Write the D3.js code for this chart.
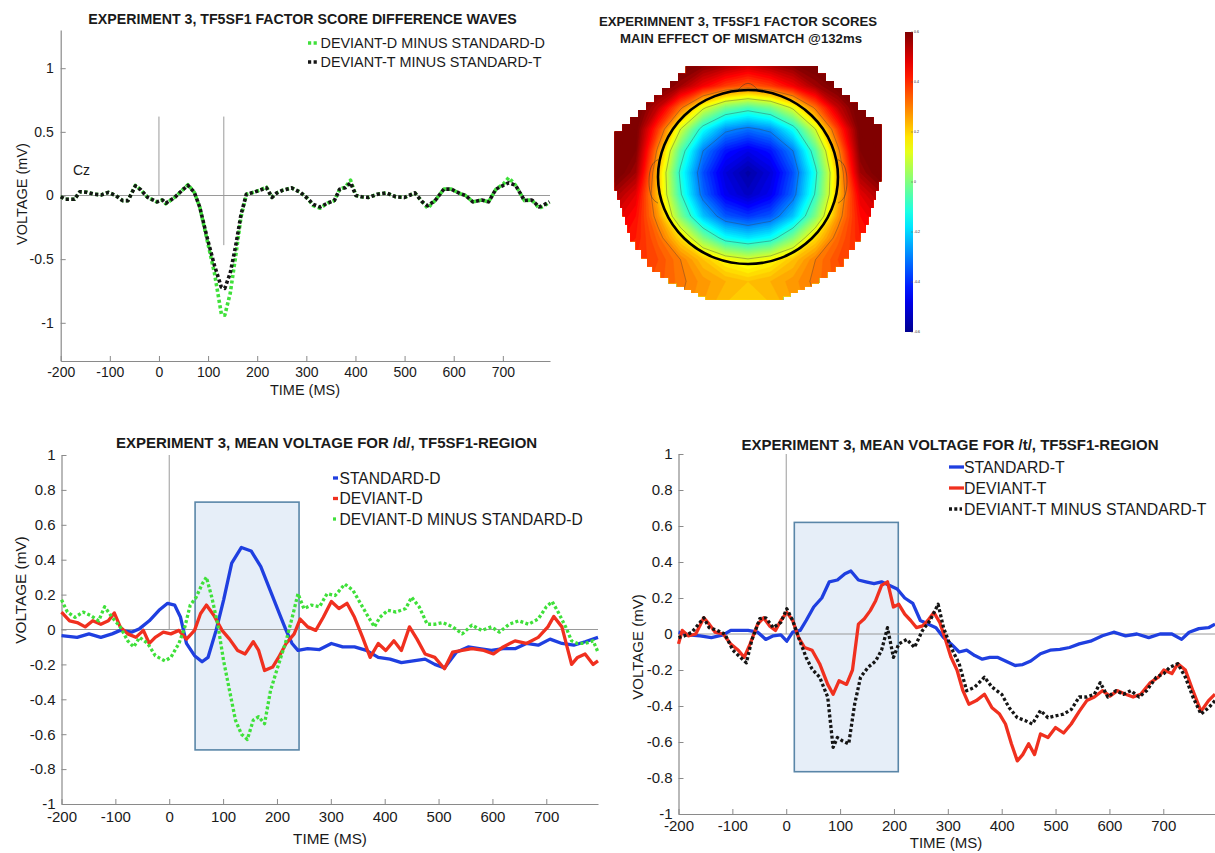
<!DOCTYPE html>
<html>
<head>
<meta charset="utf-8">
<script src="https://cdn.jsdelivr.net/npm/d3@7"></script>
<style>
body { margin: 0; background: #fff; }
svg text { font-family: "Liberation Sans", Arial, Helvetica, sans-serif; fill: #1a1a1a; }
</style>
</head>
<body>
<div id="chart"></div>
<script>
// ---------- data ----------
var timeDomain = [-200, 796];
var timeTicks = [-200, -100, 0, 100, 200, 300, 400, 500, 600, 700];
var topYTicks = [-1, -0.5, 0, 0.5, 1];
var bottomYTicks = [-1, -0.8, -0.6, -0.4, -0.2, 0, 0.2, 0.4, 0.6, 0.8, 1];

// top-left: factor score difference waves
var tlTime = [-200,-190,-172,-161,-147,-132,-117,-103,-88,-74,-63,-48,-37,-23,-4,7,14,32,47,59,72,83,98,113,127,134,145,156,167,178,193,204,219,230,240,251,270,288,303,314,328,343,357,368,379,390,401,412,427,445,463,482,500,521,536,547,562,580,595,613,624,639,657,671,686,701,712,726,744,759,774,785,795];
var tlDevDMinusStdD = [-0.01,-0.03,-0.03,0.03,0.025,0.01,0.005,0.025,0,-0.04,-0.04,0.08,0.045,-0.015,-0.05,-0.035,-0.065,-0.015,0.04,0.085,0.025,-0.09,-0.35,-0.61,-0.93,-0.94,-0.77,-0.48,-0.17,0.01,0.025,0.04,0.065,-0.015,0.02,0.04,0.06,0.025,-0.025,-0.08,-0.10,-0.06,-0.04,0.05,0.065,0.12,0,-0.01,-0.015,0.01,0.02,-0.01,-0.015,0.02,-0.05,-0.10,-0.04,0.05,0.05,0.015,0,-0.05,-0.035,-0.05,0.05,0.09,0.14,0.08,-0.04,-0.035,-0.10,-0.08,-0.05];
var tlDevTMinusStdT = [-0.01,-0.03,-0.03,0.03,0.025,0.01,0.005,0.025,0,-0.04,-0.04,0.075,0.045,-0.015,-0.05,-0.035,-0.06,-0.015,0.04,0.08,0.025,-0.09,-0.33,-0.55,-0.72,-0.73,-0.61,-0.40,-0.15,0.01,0.025,0.04,0.06,-0.015,0.02,0.04,0.06,0.025,-0.025,-0.07,-0.09,-0.06,-0.04,0.05,0.06,0.10,0,-0.01,-0.015,0.01,0.02,-0.01,-0.015,0.02,-0.05,-0.08,-0.04,0.05,0.05,0.015,0,-0.05,-0.035,-0.05,0.05,0.08,0.10,0.08,-0.04,-0.035,-0.09,-0.07,-0.05];

// bottom-left: /d/
var stdDTime = [-200,-171,-149,-127,-106,-91,-69,-55,-37,-19,-3,10,21,32,47,61,72,87,101,116,134,152,170,188,206,217,228,239,257,279,301,322,344,366,388,410,431,453,475,493,511,533,555,576,598,620,642,663,685,707,729,751,772,796];
var stdDValue = [-0.035,-0.045,-0.025,-0.045,-0.025,-0.005,-0.015,0.005,0.05,0.11,0.15,0.14,0.07,-0.08,-0.15,-0.185,-0.16,-0.005,0.17,0.38,0.47,0.45,0.36,0.22,0.08,-0.005,-0.08,-0.12,-0.11,-0.115,-0.08,-0.10,-0.10,-0.12,-0.16,-0.17,-0.19,-0.18,-0.17,-0.20,-0.22,-0.13,-0.10,-0.11,-0.12,-0.11,-0.11,-0.08,-0.09,-0.055,-0.08,-0.09,-0.07,-0.045];
var devDTime = [-200,-185,-171,-156,-142,-127,-113,-102,-91,-77,-62,-48,-37,-26,-11,3,18,32,47,58,69,83,98,112,127,141,156,166,177,192,203,217,232,243,257,272,286,301,315,330,344,359,373,388,402,417,431,446,460,475,493,511,526,544,562,584,602,620,642,663,685,703,714,729,747,758,772,787,796];
var devDValue = [0.10,0.05,0.04,0.015,0.05,0.03,0.05,0.095,0.015,-0.025,-0.045,-0.005,-0.08,-0.045,-0.015,-0.025,-0.005,-0.055,-0.005,0.09,0.14,0.08,-0.005,-0.055,-0.12,-0.14,-0.07,-0.12,-0.235,-0.215,-0.16,-0.08,-0.025,0.06,0.015,-0.005,0.07,0.16,0.12,0.15,0.07,-0.045,-0.16,-0.08,-0.12,-0.065,-0.12,0.015,-0.055,-0.14,-0.16,-0.225,-0.13,-0.12,-0.11,-0.12,-0.14,-0.10,-0.065,-0.08,-0.045,0.015,0.075,0.015,-0.20,-0.16,-0.14,-0.20,-0.18];
var diffDTime = [-200,-189,-175,-160,-146,-131,-120,-106,-91,-77,-66,-55,-40,-26,-8,3,18,29,39,50,61,69,79,90,101,112,123,134,145,156,166,177,188,203,217,230,239,250,264,279,293,308,326,341,355,370,381,391,406,421,439,450,464,479,493,508,526,544,562,580,598,613,631,649,667,685,700,711,722,736,747,758,772,787,796];
var diffDValue = [0.17,0.10,0.07,0.10,0.08,0.05,0.13,0.07,0.015,-0.065,-0.10,-0.045,-0.08,-0.15,-0.18,-0.16,-0.08,0.015,0.14,0.185,0.26,0.30,0.185,0.03,-0.18,-0.35,-0.52,-0.60,-0.63,-0.52,-0.50,-0.54,-0.35,-0.20,-0.065,0.09,0.205,0.12,0.14,0.13,0.205,0.195,0.26,0.225,0.15,0.07,0.015,0.07,0.11,0.10,0.12,0.185,0.13,0.03,0.03,0.04,0.015,-0.025,0.025,-0.005,0.015,-0.015,0.03,0.05,0.03,0.06,0.13,0.16,0.10,0.015,-0.065,-0.08,-0.08,-0.065,-0.13];

// bottom-right: /t/
var stdTTime = [-200,-182,-160,-139,-117,-103,-89,-71,-53,-38,-24,-10,1,12,26,37,51,66,80,95,109,120,134,148,163,177,192,206,220,235,249,263,278,292,306,321,335,350,364,378,393,407,425,439,454,472,490,508,526,544,565,587,608,630,651,673,694,716,734,748,766,784,796];
var stdTValue = [0.01,-0.005,-0.01,-0.02,-0.005,0.02,0.02,0.02,0.01,-0.03,-0.01,-0.005,-0.04,0.01,0.02,0.075,0.15,0.20,0.29,0.30,0.335,0.35,0.30,0.29,0.28,0.29,0.27,0.25,0.20,0.17,0.075,0.055,0.035,-0.02,-0.055,-0.10,-0.09,-0.12,-0.14,-0.13,-0.13,-0.15,-0.175,-0.17,-0.15,-0.11,-0.09,-0.085,-0.075,-0.055,-0.04,-0.01,0.01,-0.01,0,-0.02,0,0,-0.03,0.01,0.03,0.035,0.055];
var devTTime = [-200,-193,-182,-168,-153,-143,-132,-117,-103,-89,-78,-67,-53,-42,-31,-20,-10,1,12,23,34,48,62,77,87,98,112,123,134,145,156,166,177,188,199,209,220,231,242,253,263,274,285,296,306,317,328,339,353,368,382,396,407,418,429,439,450,461,472,486,500,515,529,544,558,572,587,601,615,630,644,658,676,691,701,716,727,741,755,770,784,796];
var devTValue = [-0.055,0.02,-0.01,0,0.09,0.055,0.01,0,-0.055,-0.09,-0.13,-0.055,0.055,0.09,0.045,0.02,0.075,0.12,0.075,-0.02,-0.075,-0.09,-0.165,-0.28,-0.335,-0.26,-0.28,-0.20,0.055,0.085,0.13,0.185,0.27,0.29,0.15,0.165,0.11,0.075,0.035,0.045,0.075,0.12,0.065,-0.035,-0.13,-0.20,-0.315,-0.39,-0.37,-0.335,-0.41,-0.445,-0.50,-0.61,-0.705,-0.67,-0.61,-0.67,-0.555,-0.575,-0.52,-0.55,-0.50,-0.43,-0.37,-0.35,-0.315,-0.345,-0.315,-0.335,-0.35,-0.335,-0.27,-0.24,-0.20,-0.22,-0.165,-0.20,-0.315,-0.43,-0.37,-0.335];
var diffTTime = [-200,-189,-175,-153,-143,-128,-114,-99,-85,-74,-64,-49,-38,-24,-10,1,12,23,37,48,62,77,87,95,105,116,127,138,152,166,177,188,199,209,224,238,253,267,282,292,306,321,335,350,368,382,400,414,429,443,457,472,486,500,515,529,544,558,572,583,597,612,626,640,655,669,687,701,712,727,741,755,770,784,796];
var diffTValue = [-0.02,-0.01,0.01,0.09,0.035,0.02,0,-0.09,-0.13,-0.16,-0.035,0.085,0.09,0.035,0.065,0.14,0.075,-0.02,-0.13,-0.195,-0.24,-0.35,-0.63,-0.575,-0.595,-0.61,-0.39,-0.24,-0.185,-0.15,-0.09,0.035,-0.13,-0.055,-0.03,-0.075,0.02,0.075,0.165,0.035,-0.075,-0.165,-0.315,-0.295,-0.24,-0.295,-0.335,-0.41,-0.465,-0.48,-0.50,-0.425,-0.465,-0.455,-0.445,-0.42,-0.35,-0.35,-0.335,-0.27,-0.35,-0.315,-0.335,-0.315,-0.35,-0.315,-0.24,-0.22,-0.185,-0.165,-0.24,-0.35,-0.445,-0.41,-0.37];

// analysis windows [tStart, tEnd, vLow, vHigh]
var windowD = [48, 241, -0.69, 0.73];
var windowT = [15, 208, -0.765, 0.62];

// scalp map grid (head units, circle radius = 1)
var headX = [-1.5,-1.25,-1,-0.75,-0.5,-0.25,0,0.25,0.5,0.75,1,1.25,1.5];
var headY = [-1.3,-1.05,-0.8,-0.55,-0.3,-0.05,0.2,0.45,0.7,0.95,1.2,1.45];
var scalpValues = [
  [0.66,0.66,0.66,0.64,0.6,0.56,0.52,0.56,0.6,0.64,0.66,0.66,0.66],
  [0.66,0.66,0.63,0.56,0.46,0.38,0.34,0.38,0.46,0.56,0.63,0.66,0.66],
  [0.66,0.64,0.52,0.32,0.12,-0.01,-0.06,-0.01,0.12,0.32,0.52,0.64,0.66],
  [0.66,0.62,0.38,0.1,-0.14,-0.28,-0.32,-0.28,-0.14,0.1,0.38,0.62,0.66],
  [0.66,0.6,0.28,-0.05,-0.3,-0.43,-0.48,-0.43,-0.3,-0.05,0.28,0.6,0.66],
  [0.64,0.56,0.22,-0.12,-0.36,-0.5,-0.57,-0.5,-0.36,-0.12,0.22,0.56,0.64],
  [0.56,0.48,0.22,-0.09,-0.33,-0.47,-0.53,-0.47,-0.33,-0.09,0.22,0.48,0.56],
  [0.5,0.44,0.27,0.0,-0.22,-0.35,-0.39,-0.35,-0.22,0.0,0.27,0.44,0.5],
  [0.46,0.42,0.33,0.19,0.0,-0.14,-0.18,-0.14,0.0,0.19,0.33,0.42,0.46],
  [0.42,0.4,0.36,0.3,0.22,0.15,0.11,0.15,0.22,0.3,0.36,0.4,0.42],
  [0.4,0.38,0.35,0.31,0.27,0.24,0.22,0.24,0.27,0.31,0.35,0.38,0.4],
  [0.36,0.35,0.33,0.3,0.26,0.22,0.2,0.22,0.26,0.3,0.33,0.35,0.36]
];
var maskOutline = [[-0.69,-1.27],[0.69,-1.27],[1.48,-0.52],[1.48,0.05],[1.42,0.26],[1.31,0.64],[1.06,1.03],[0.79,1.22],[0.39,1.41],[-0.39,1.41],[-0.79,1.22],[-1.06,1.03],[-1.31,0.64],[-1.42,0.26],[-1.48,0.05],[-1.48,-0.52]];
var leftEar = [[-1.0,-0.2],[-1.08,-0.15],[-1.11,0.05],[-1.08,0.25],[-1.0,0.3]];
var rightEar = [[1.0,-0.2],[1.08,-0.15],[1.11,0.05],[1.08,0.25],[1.0,0.3]];
var nose = [[-0.12,-0.99],[0,-1.12],[0.12,-0.99]];
var colorbarTicks = [-0.6, -0.4, -0.2, 0, 0.2, 0.4, 0.6];

// colours
var blue = "#1f3fe0", red = "#f0301f", green = "#3fe03a", black = "#151515";

// svg
var svg = d3.select("#chart").append("svg")
    .attr("width", 1215)
    .attr("height", 853);

// jet colormap
var jet = d3.scaleLinear()
    .domain([-0.6, -0.45, -0.15, 0.15, 0.45, 0.6])
    .range(["#00008f", "#0000ff", "#00ffff", "#ffff00", "#ff0000", "#800000"])
    .clamp(true);

function drawPanel(p) {
    var g = svg.append("g");
    var x = d3.scaleLinear().domain(timeDomain).range(p.xRange);
    var y = d3.scaleLinear().domain(p.yDomain).range(p.yRange);

    //analysis window box
    if (p.box) {
        g.append("rect")
            .attr("x", x(p.box[0]))
            .attr("y", y(p.box[3]))
            .attr("width", x(p.box[1]) - x(p.box[0]))
            .attr("height", y(p.box[2]) - y(p.box[3]))
            .attr("fill", "#e6eef8")
            .attr("stroke", "#5a86a8")
            .attr("stroke-width", 1.6);
    }

    //zero line
    g.append("line")
        .attr("x1", x(timeDomain[0])).attr("x2", x(timeDomain[1]))
        .attr("y1", y(0)).attr("y2", y(0))
        .attr("stroke", "#9a9a9a").attr("stroke-width", 1);

    //vertical guide lines
    p.guides.forEach(function(m) {
        g.append("line")
            .attr("x1", x(m[0])).attr("x2", x(m[0]))
            .attr("y1", y(m[1])).attr("y2", y(m[2]))
            .attr("stroke", "#9a9a9a").attr("stroke-width", 1);
    });

    //axes
    var bottomAxis = d3.axisBottom(x).tickValues(timeTicks)
        .tickSizeInner(-5).tickSizeOuter(0).tickPadding(p.xPad)
        .tickFormat(function(d) { return String(d); });
    var leftAxis = d3.axisLeft(y).tickValues(p.yTicks)
        .tickSizeInner(-5).tickSizeOuter(0).tickPadding(p.yPad)
        .tickFormat(function(d) { return String(d); });
    var xg = g.append("g").attr("transform", `translate(0,${p.yRange[0]})`).call(bottomAxis);
    var yg = g.append("g").attr("transform", `translate(${p.xRange[0]},0)`).call(leftAxis);
    [xg, yg].forEach(function(a) {
        a.select(".domain").attr("stroke", "#8a8a8a").attr("stroke-width", 1.2);
        a.selectAll(".tick line").attr("stroke", "#8a8a8a");
        a.selectAll(".tick text").attr("font-size", p.tickFont + "px").attr("fill", "#1a1a1a")
            .attr("font-family", "'Liberation Sans', Arial, sans-serif");
    });

    //series
    var line = d3.line().x(function(d) { return x(d[0]); }).y(function(d) { return y(d[1]); });
    p.series.forEach(function(s) {
        g.append("path")
            .datum(d3.zip(s.t, s.v))
            .attr("d", line)
            .attr("fill", "none")
            .attr("stroke", s.color)
            .attr("stroke-width", s.width)
            .attr("stroke-linejoin", "round")
            .attr("stroke-dasharray", s.dash || null);
    });

    //legend
    p.series.forEach(function(s, i) {
        var ly = p.legend.y[i];
        g.append("line")
            .attr("x1", p.legend.x0).attr("x2", p.legend.x0 + (s.dash ? p.legend.dotLen : p.legend.lineLen))
            .attr("y1", ly).attr("y2", ly)
            .attr("stroke", s.color).attr("stroke-width", s.width)
            .attr("stroke-dasharray", s.dash || null);
        g.append("text")
            .attr("x", p.legend.tx).attr("y", ly).attr("dy", "0.36em")
            .attr("font-size", p.legend.font + "px")
            .text(s.name);
    });

    //title
    g.append("text")
        .attr("x", p.title.x).attr("y", p.title.y).attr("dy", "0.36em")
        .attr("text-anchor", "middle").attr("font-weight", "bold")
        .attr("font-size", p.title.font + "px")
        .text(p.title.text);

    //axis labels
    g.append("text")
        .attr("x", p.xLabel[0]).attr("y", p.xLabel[1]).attr("dy", "0.36em")
        .attr("text-anchor", "middle").attr("font-size", p.labelFont + "px")
        .text("TIME (MS)");
    g.append("text")
        .attr("transform", `translate(${p.yLabel[0]},${p.yLabel[1]}) rotate(-90)`)
        .attr("dy", "0.36em")
        .attr("text-anchor", "middle").attr("font-size", p.labelFont + "px")
        .text("VOLTAGE (mV)");
    return g;
}

// top-left panel
var tl = drawPanel({
    xRange: [60.7, 550], yRange: [361, 30], yDomain: [-1.3, 1.3],
    yTicks: topYTicks, xPad: 6, yPad: 7, tickFont: 14, labelFont: 14.5,
    guides: [[0, 0.62, 0], [132, 0.62, -0.39]],
    series: [
        { name: "DEVIANT-D MINUS STANDARD-D", t: tlTime, v: tlDevDMinusStdD, color: green, width: 3.6, dash: "3.2,2.4" },
        { name: "DEVIANT-T MINUS STANDARD-T", t: tlTime, v: tlDevTMinusStdT, color: black, width: 3.6, dash: "3.2,2.4" }
    ],
    legend: { x0: 308, tx: 320.5, y: [43, 62], font: 14.4, dotLen: 11, lineLen: 11 },
    title: { x: 302.5, y: 18.5, font: 14.2, text: "EXPERIMENT 3, TF5SF1 FACTOR SCORE DIFFERENCE WAVES" },
    xLabel: [305, 390], yLabel: [21.7, 194]
});
tl.append("text").attr("x", 73).attr("y", 170).attr("dy", "0.36em")
    .attr("font-size", "14px").text("Cz");

// bottom-left panel
drawPanel({
    xRange: [61.5, 598], yRange: [804, 455], yDomain: [-1, 1],
    yTicks: bottomYTicks, xPad: 7, yPad: 6, tickFont: 15, labelFont: 15.3,
    box: windowD,
    guides: [[0, 1, 0]],
    series: [
        { name: "STANDARD-D", t: stdDTime, v: stdDValue, color: blue, width: 3.3 },
        { name: "DEVIANT-D", t: devDTime, v: devDValue, color: red, width: 3.3 },
        { name: "DEVIANT-D MINUS STANDARD-D", t: diffDTime, v: diffDValue, color: green, width: 3.3, dash: "3,2.3" }
    ],
    legend: { x0: 333, tx: 339.5, y: [478, 498.5, 519], font: 15.6, dotLen: 5, lineLen: 5 },
    title: { x: 326.6, y: 442.7, font: 15, text: "EXPERIMENT 3, MEAN VOLTAGE FOR /d/, TF5SF1-REGION" },
    xLabel: [330, 838], yLabel: [20, 590]
});

// bottom-right panel
drawPanel({
    xRange: [678.5, 1215], yRange: [814, 454], yDomain: [-1, 1],
    yTicks: bottomYTicks, xPad: 6, yPad: 6, tickFont: 15, labelFont: 15,
    box: windowT,
    guides: [[0, 1, 0]],
    series: [
        { name: "STANDARD-T", t: stdTTime, v: stdTValue, color: blue, width: 3.3 },
        { name: "DEVIANT-T", t: devTTime, v: devTValue, color: red, width: 3.3 },
        { name: "DEVIANT-T MINUS STANDARD-T", t: diffTTime, v: diffTValue, color: black, width: 3.3, dash: "3,2.3" }
    ],
    legend: { x0: 949, tx: 964, y: [467, 488, 509], font: 15.8, dotLen: 13, lineLen: 15 },
    title: { x: 950, y: 445, font: 15, text: "EXPERIMENT 3, MEAN VOLTAGE FOR /t/, TF5SF1-REGION" },
    xLabel: [946, 843], yLabel: [638, 647]
});

// ---------- scalp map ----------
var hx = d3.scaleLinear().domain([-1, 1]).range([658, 838]);
var hy = d3.scaleLinear().domain([-1, 1]).range([90, 264]);
var topo = svg.append("g");

//stepped (pixelated) mask outline
function stepOutline(pts, step) {
    var out = [];
    for (var i = 0; i < pts.length; i++) {
        var p = pts[i], q = pts[(i + 1) % pts.length];
        var dx = q[0] - p[0], dy = q[1] - p[1];
        out.push(p);
        if (Math.abs(dx) > 1 && Math.abs(dy) > 1) {
            var n = Math.max(1, Math.round(Math.max(Math.abs(dx), Math.abs(dy)) / step));
            var cur = p;
            for (var k = 1; k <= n; k++) {
                var nx = p[0] + dx * k / n, ny = p[1] + dy * k / n;
                out.push([nx, cur[1]]);
                if (k < n) out.push([nx, ny]);
                cur = [nx, ny];
            }
        }
    }
    return out;
}
var maskPx = stepOutline(maskOutline.map(function(d) { return [hx(d[0]), hy(d[1])]; }), 8);
svg.append("defs").append("clipPath").attr("id", "scalpClip")
    .append("path").attr("d", "M" + maskPx.map(function(d) { return d.join(","); }).join("L") + "Z");

//contour bands
var gx = d3.scaleLinear().domain([0.5, headX.length - 0.5]).range([headX[0], headX[headX.length - 1]]);
var gy = d3.scaleLinear().domain([0.5, headY.length - 0.5]).range([headY[0], headY[headY.length - 1]]);
var gridProj = d3.geoTransform({
    point: function(px, py) { this.stream.point(hx(gx(px)), hy(gy(py))); }
});
var geo = d3.geoPath(gridProj);
var flat = scalpValues.flat();
var fillLevels = d3.range(-0.64, 0.66, 0.02);
var bands = d3.contours().size([headX.length, headY.length]).smooth(true).thresholds(fillLevels)(flat);
var mapG = topo.append("g").attr("clip-path", "url(#scalpClip)");
mapG.selectAll("path.band")
    .data(bands)
    .enter()
    .append("path")
    .attr("class", "band")
    .attr("d", geo)
    .attr("fill", function(d) { return jet(d.value + 0.01); })
    .attr("stroke", function(d) { return jet(d.value + 0.01); })
    .attr("stroke-width", 0.5);

//contour lines
var lineLevels = [-0.3, -0.1, 0.1, 0.3];
var isoLines = d3.contours().size([headX.length, headY.length]).thresholds(lineLevels)(flat);
mapG.selectAll("path.iso")
    .data(isoLines)
    .enter()
    .append("path")
    .attr("class", "iso")
    .attr("d", geo)
    .attr("fill", "none")
    .attr("stroke", "#3a3a3a")
    .attr("stroke-opacity", 0.45)
    .attr("stroke-width", 0.8);

//head outline, ears, nose
var headLine = d3.line().x(function(d) { return hx(d[0]); }).y(function(d) { return hy(d[1]); }).curve(d3.curveBasis);
[leftEar, rightEar, nose].forEach(function(s) {
    topo.append("path").attr("d", headLine(s))
        .attr("fill", "none").attr("stroke", "#333").attr("stroke-opacity", 0.6).attr("stroke-width", 0.8);
});
topo.append("ellipse")
    .attr("cx", hx(0)).attr("cy", hy(0))
    .attr("rx", hx(1) - hx(0)).attr("ry", hy(1) - hy(0))
    .attr("fill", "none").attr("stroke", "#000").attr("stroke-width", 2.6);

//colorbar
var cbY = d3.scaleLinear().domain([-0.6, 0.6]).range([332, 32]);
var grad = svg.select("defs").append("linearGradient").attr("id", "jetGrad")
    .attr("x1", 0).attr("y1", 1).attr("x2", 0).attr("y2", 0);
d3.range(0, 21).forEach(function(i) {
    grad.append("stop").attr("offset", (i / 20)).attr("stop-color", jet(-0.6 + 1.2 * i / 20));
});
topo.append("rect")
    .attr("x", 905).attr("y", cbY(0.6))
    .attr("width", 8).attr("height", cbY(-0.6) - cbY(0.6))
    .attr("fill", "url(#jetGrad)");
colorbarTicks.forEach(function(t) {
    topo.append("line").attr("x1", 911).attr("x2", 913).attr("y1", cbY(t)).attr("y2", cbY(t))
        .attr("stroke", "#555").attr("stroke-width", 0.5);
    topo.append("text").attr("x", 914).attr("y", cbY(t)).attr("dy", "0.35em")
        .attr("font-size", "3.5px").attr("fill", "#555").text(String(t));
});

//titles
topo.append("text").attr("x", 738).attr("y", 21.7).attr("dy", "0.36em")
    .attr("text-anchor", "middle").attr("font-weight", "bold").attr("font-size", "13.2px")
    .text("EXPERIMNENT 3, TF5SF1 FACTOR SCORES");
topo.append("text").attr("x", 741).attr("y", 38.3).attr("dy", "0.36em")
    .attr("text-anchor", "middle").attr("font-weight", "bold").attr("font-size", "13.2px")
    .text("MAIN EFFECT OF MISMATCH @132ms");
</script>
</body>
</html>
